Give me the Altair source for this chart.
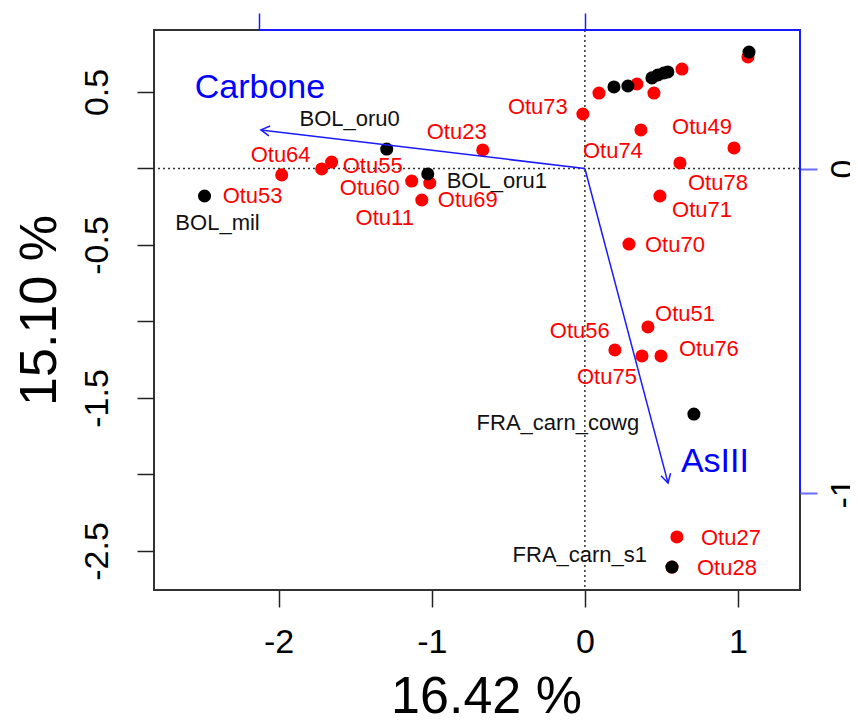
import math
import altair as alt
import pandas as pd

# ---------------- data ----------------
# site scores (black points)
site_x = [-2.484, -1.294, -1.026, 0.712, 0.569, 0.190, 0.281, 0.438, 0.477, 0.516, 0.542, 1.072]
site_y = [-0.180, 0.127, -0.036, -1.605, -2.605, 0.533, 0.539, 0.592, 0.611, 0.624, 0.631, 0.761]
site_lab = ["BOL_mil", "BOL_oru0", "BOL_oru1", "FRA_carn_cowg", "FRA_carn_s1"]
site_lab_x = [-2.399, -1.536, -0.575, -0.176, -0.033]
site_lab_y = [-0.356, 0.324, -0.082, -1.663, -2.526]

# species scores (red points)
spec_x = [-1.980, -1.719, -1.654, -1.131, -1.013, -1.065, -0.667, -0.013, 0.092, 0.340,
          0.451, 0.634, 1.065, 0.366, 0.974, 0.621, 0.490, 0.288, 0.412, 0.196,
          0.373, 0.497, 0.601, 0.569]
spec_y = [-0.042, -0.003, 0.042, -0.082, -0.095, -0.206, 0.121, 0.356, 0.493, 0.552,
          0.493, 0.650, 0.729, 0.252, 0.134, 0.036, -0.180, -0.494, -1.036, -1.186,
          -1.225, -1.225, -2.408, -2.605]
spec_lab = ["Otu53", "Otu64", "Otu55", "Otu60", "Otu11", "Otu69", "Otu23", "Otu73", "Otu74",
            "Otu49", "Otu78", "Otu71", "Otu70", "Otu51", "Otu56", "Otu75", "Otu76", "Otu27", "Otu28"]
spec_lab_x = [-2.170, -1.987, -1.386, -1.405, -1.307, -0.765, -0.837, -0.307, 0.183,
              0.765, 0.869, 0.765, 0.588, 0.654, -0.033, 0.144, 0.810, 0.954, 0.928]
spec_lab_y = [-0.180, 0.088, 0.016, -0.127, -0.324, -0.206, 0.239, 0.402, 0.114,
              0.271, -0.095, -0.271, -0.500, -0.951, -1.062, -1.363, -1.180, -2.415, -2.611]

# environmental vectors (blue arrows, secondary scale)
env_names = ["Carbone", "AsIII"]
env_x = [-0.994, 0.255]
env_y = [0.119, -0.969]
env_lab_x = [-0.997, 0.399]
env_lab_y = [0.248, -0.904]

# axes
x_ticks = [-2, -1, 0, 1]
y_ticks = [-2.5, -2, -1.5, -1, -0.5, 0, 0.5]
y_tick_labelled = [-2.5, -1.5, -0.5, 0.5]
env_ticks = [-1, 0]
x_title = "16.42 %"
y_title = "15.10 %"

X_DOM = [-2.814, 1.405]
Y_DOM = [-2.755, 0.905]
ENV_X_DOM = [-1.322, 0.660]
ENV_Y_DOM = [-1.299, 0.427]

W, H = 646, 560
FONT = "Liberation Sans"
BLUE = "#1a1aff"

# ---------------- tables ----------------
df_sites = pd.DataFrame({"x": site_x, "y": site_y})
df_site_lab = pd.DataFrame({"x": site_lab_x, "y": site_lab_y, "t": site_lab})
df_spec = pd.DataFrame({"x": spec_x, "y": spec_y})
df_spec_lab = pd.DataFrame({"x": spec_lab_x, "y": spec_lab_y, "t": spec_lab})
df_env = pd.DataFrame({
    "ex": env_x, "ey": env_y,
    "ang": [math.degrees(math.atan2(a, b)) % 360 for a, b in zip(env_x, env_y)],
})
df_env_lab = pd.DataFrame({"ex": env_lab_x, "ey": env_lab_y, "t": env_names})

# ---------------- primary axes ----------------
axis_bottom = alt.Axis(
    orient="bottom", values=x_ticks, labelExpr="toString(datum.value)",
    grid=False, domain=False, tickSize=17, tickWidth=1.5, tickColor="#222",
    labelFont=FONT, labelFontSize=34, labelColor="black", labelPadding=18,
    labelBaseline="top", labelOverlap=False, labelFlush=False,
    title=x_title, titleFont=FONT, titleFontSize=52, titleFontWeight="normal",
    titleColor="black", titleBaseline="alphabetic", titleY=122, titleX=W / 2 + 9,
    titleAlign="center",
)
axis_left = alt.Axis(
    orient="left", values=y_ticks,
    labelExpr="indexof(%s, datum.value) >= 0 ? toString(datum.value) : ''" % str(y_tick_labelled),
    grid=False, domain=False, tickSize=17, tickWidth=1.5, tickColor="#222",
    labelFont=FONT, labelFontSize=34, labelColor="black", labelPadding=30,
    labelAngle=270, labelAlign="center", labelBaseline="alphabetic",
    labelOverlap=False, labelFlush=False,
    title=y_title, titleFont=FONT, titleFontSize=52, titleFontWeight="normal",
    titleColor="black", titleAngle=270, titleBaseline="alphabetic",
    titleAlign="center", titleX=-99, titleY=H / 2,
)
axis_top = alt.Axis(
    orient="top", values=env_ticks, labels=False, grid=False, domain=False,
    tickSize=17, tickWidth=1.5, tickColor=BLUE, title=None,
)
axis_right = alt.Axis(
    orient="right", values=env_ticks, labelExpr="toString(datum.value)",
    grid=False, domain=False, tickSize=17, tickWidth=2, tickColor="#6a6aff",
    labelFont=FONT, labelFontSize=34, labelColor="black", labelPadding=9,
    labelAngle=270, labelAlign="center", labelBaseline="top",
    labelOverlap=False, labelFlush=False, title=None,
)


def XA(f):
    return alt.X(f"{f}:Q", scale=alt.Scale(domain=X_DOM, nice=False, zero=False), axis=axis_bottom)


def YA(f):
    return alt.Y(f"{f}:Q", scale=alt.Scale(domain=Y_DOM, nice=False, zero=False), axis=axis_left)


def XB(f):
    return alt.X(f"{f}:Q", scale=alt.Scale(domain=ENV_X_DOM, nice=False, zero=False), axis=axis_top)


def YB(f):
    return alt.Y(f"{f}:Q", scale=alt.Scale(domain=ENV_Y_DOM, nice=False, zero=False), axis=axis_right)


# ---------------- primary layer ----------------
hline = alt.Chart(pd.DataFrame({"y": [0]})).mark_rule(
    color="#333", strokeDash=[2, 3], strokeWidth=1.5).encode(y=YA("y"))
vline = alt.Chart(pd.DataFrame({"x": [0]})).mark_rule(
    color="#333", strokeDash=[2, 3], strokeWidth=1.5).encode(x=XA("x"))
spec_pts = alt.Chart(df_spec).mark_circle(size=170, opacity=1, color="#ff0000").encode(
    x=XA("x"), y=YA("y"))
site_pts = alt.Chart(df_sites).mark_circle(size=170, opacity=1, color="#000000").encode(
    x=XA("x"), y=YA("y"))
spec_txt = alt.Chart(df_spec_lab).mark_text(
    font=FONT, fontSize=22, color="#ff0000", align="center", baseline="middle").encode(
    x=XA("x"), y=YA("y"), text="t:N")
site_txt = alt.Chart(df_site_lab).mark_text(
    font=FONT, fontSize=22, color="#111", align="center", baseline="middle").encode(
    x=XA("x"), y=YA("y"), text="t:N")

layer_a = alt.layer(hline, vline, spec_pts, spec_txt, site_txt, site_pts)

# ---------------- secondary (biplot arrows) layer ----------------
top_edge = alt.Chart(pd.DataFrame({"ex": [env_ticks[0]]})).mark_rule(
    color=BLUE, strokeWidth=2).encode(x=XB("ex"), x2=alt.value(W), y=alt.value(0))
right_edge = alt.Chart(pd.DataFrame({"ey": [env_ticks[0]]})).mark_rule(
    color=BLUE, strokeWidth=2).encode(y=YB("ey"), y2=alt.value(0), x=alt.value(W))
arrows = alt.Chart(df_env).mark_rule(color=BLUE, strokeWidth=1.5).encode(
    x=XB("ex"), y=YB("ey"), x2=alt.datum(0), y2=alt.datum(0))
heads = alt.Chart(df_env).mark_point(
    shape="M-0.5,0.87L0,0L0.5,0.87", filled=False, size=400, strokeWidth=1.5,
    color=BLUE, opacity=1).encode(
    x=XB("ex"), y=YB("ey"), angle=alt.Angle("ang:Q", scale=None))
env_txt = alt.Chart(df_env_lab).mark_text(
    font=FONT, fontSize=34, color="#0000ff", align="center", baseline="middle").encode(
    x=XB("ex"), y=YB("ey"), text="t:N")

layer_b = alt.layer(top_edge, right_edge, arrows, heads, env_txt)

chart = alt.layer(layer_a, layer_b).resolve_scale(
    x="independent", y="independent"
).properties(
    width=W, height=H,
    autosize=alt.AutoSizeParams(type="none"),
    padding={"left": 146, "top": 22, "right": 50, "bottom": 130},
).configure_view(stroke="#333", strokeWidth=2)

chart.save("out.html", embed_options={"renderer": "svg", "actions": False})
